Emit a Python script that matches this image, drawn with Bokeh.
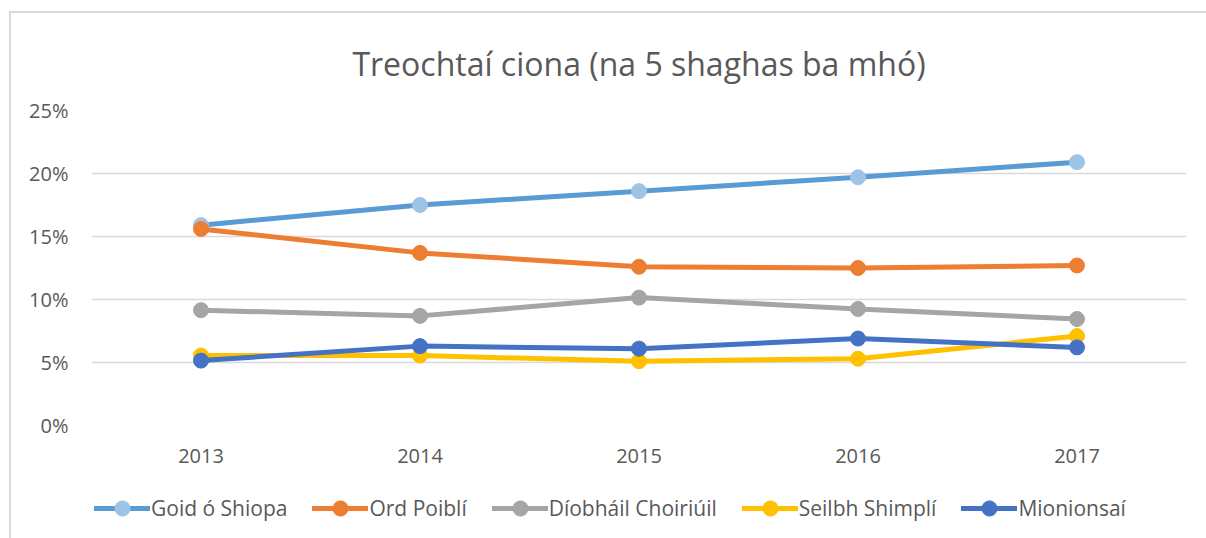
import numpy as np
from bokeh.plotting import figure
from bokeh.layouts import column
from bokeh.models import (FactorRange, Range1d, FixedTicker, NumeralTickFormatter,
                          Legend, LegendItem)
from bokeh.embed import file_html
from bokeh.resources import INLINE

years = ["2013", "2014", "2015", "2016", "2017"]
series_names = ["Goid ó Shiopa", "Ord Poiblí", "Díobháil Choiriúil", "Seilbh Shimplí", "Mionionsaí"]
goid = [15.9, 17.5, 18.6, 19.7, 20.9]
ord_poibli = [15.6, 13.7, 12.6, 12.5, 12.7]
diobhail = [9.15, 8.7, 10.15, 9.25, 8.45]
seilbh = [5.55, 5.55, 5.1, 5.3, 7.1]
mionionsai = [5.15, 6.3, 6.1, 6.9, 6.2]
y_ticks = [0, 5, 10, 15, 20, 25]

line_colors = ["#5B9BD5", "#ED7D31", "#A5A5A5", "#FFC000", "#4472C4"]
marker_colors = ["#9DC3E6", "#ED7D31", "#A5A5A5", "#FFC000", "#4472C4"]
all_series = [goid, ord_poibli, diobhail, seilbh, mionionsai]

FONT = "Open Sans"
TXT = "#595959"
LW = 5
MS = 15

p = figure(width=1195, height=472, x_range=FactorRange(*years, range_padding=0),
           y_range=Range1d(0, 0.25), output_backend="svg", toolbar_location=None,
           min_border_left=80, min_border_right=20, min_border_top=97,
           min_border_bottom=60)
p.outline_line_color = None

p.title.text = "Treochtaí ciona (na 5 shaghas ba mhó)"
p.title.align = "center"
p.title.text_font = FONT
p.title.text_font_size = "32px"
p.title.text_font_style = "normal"
p.title.text_color = TXT
p.title.standoff = 52

p.xgrid.grid_line_color = None
p.ygrid.grid_line_color = "#D9D9D9"
p.ygrid.grid_line_width = 1.5

p.yaxis.ticker = FixedTicker(ticks=[t / 100 for t in y_ticks])
p.yaxis.formatter = NumeralTickFormatter(format="0%")
for ax in (p.xaxis[0], p.yaxis[0]):
    ax.axis_line_color = None
    ax.major_tick_line_color = None
    ax.minor_tick_line_color = None
    ax.major_label_text_font = FONT
    ax.major_label_text_font_size = "20px"
    ax.major_label_text_color = TXT
p.yaxis.major_label_standoff = 17
p.xaxis.major_label_standoff = 17

for name, vals, lc, mc in zip(series_names, all_series, line_colors, marker_colors):
    y = np.array(vals) / 100.0
    p.line(years, y, line_color=lc, line_width=LW, line_cap="round", line_join="round")
    p.scatter(years, y, size=MS, fill_color=mc, line_color=mc)

# legend strip below the plot (series drawn out of view; only the legend shows)
lg = figure(width=1195, height=53, x_range=FactorRange(*years, range_padding=0),
            y_range=Range1d(-1.0, -0.9), output_backend="svg", toolbar_location=None,
            min_border_left=80, min_border_right=20, min_border_top=0, min_border_bottom=0)
lg.axis.visible = False
lg.grid.visible = False
lg.outline_line_color = None
items = []
for name, vals, lc, mc in zip(series_names, all_series, line_colors, marker_colors):
    y = np.array(vals) / 100.0
    r1 = lg.line(years, y, line_color=lc, line_width=LW, line_cap="round")
    r2 = lg.scatter(years, y, size=MS, fill_color=mc, line_color=mc)
    items.append(LegendItem(label=name, renderers=[r1, r2]))
legend = Legend(items=items, orientation="horizontal", location=(3, 11),
                glyph_width=56, glyph_height=38, label_standoff=1, spacing=25,
                padding=0, margin=0, border_line_color=None, background_fill_alpha=0,
                label_text_font=FONT, label_text_font_size="21px", label_text_color=TXT)
lg.add_layout(legend, "center")

layout = column(p, lg, spacing=0)
layout.styles = {"border-top": "2px solid #D9D9D9", "border-left": "2px solid #D9D9D9",
                 "margin-left": "9px", "margin-top": "11px"}

open("out.html", "w").write(file_html(layout, INLINE))
